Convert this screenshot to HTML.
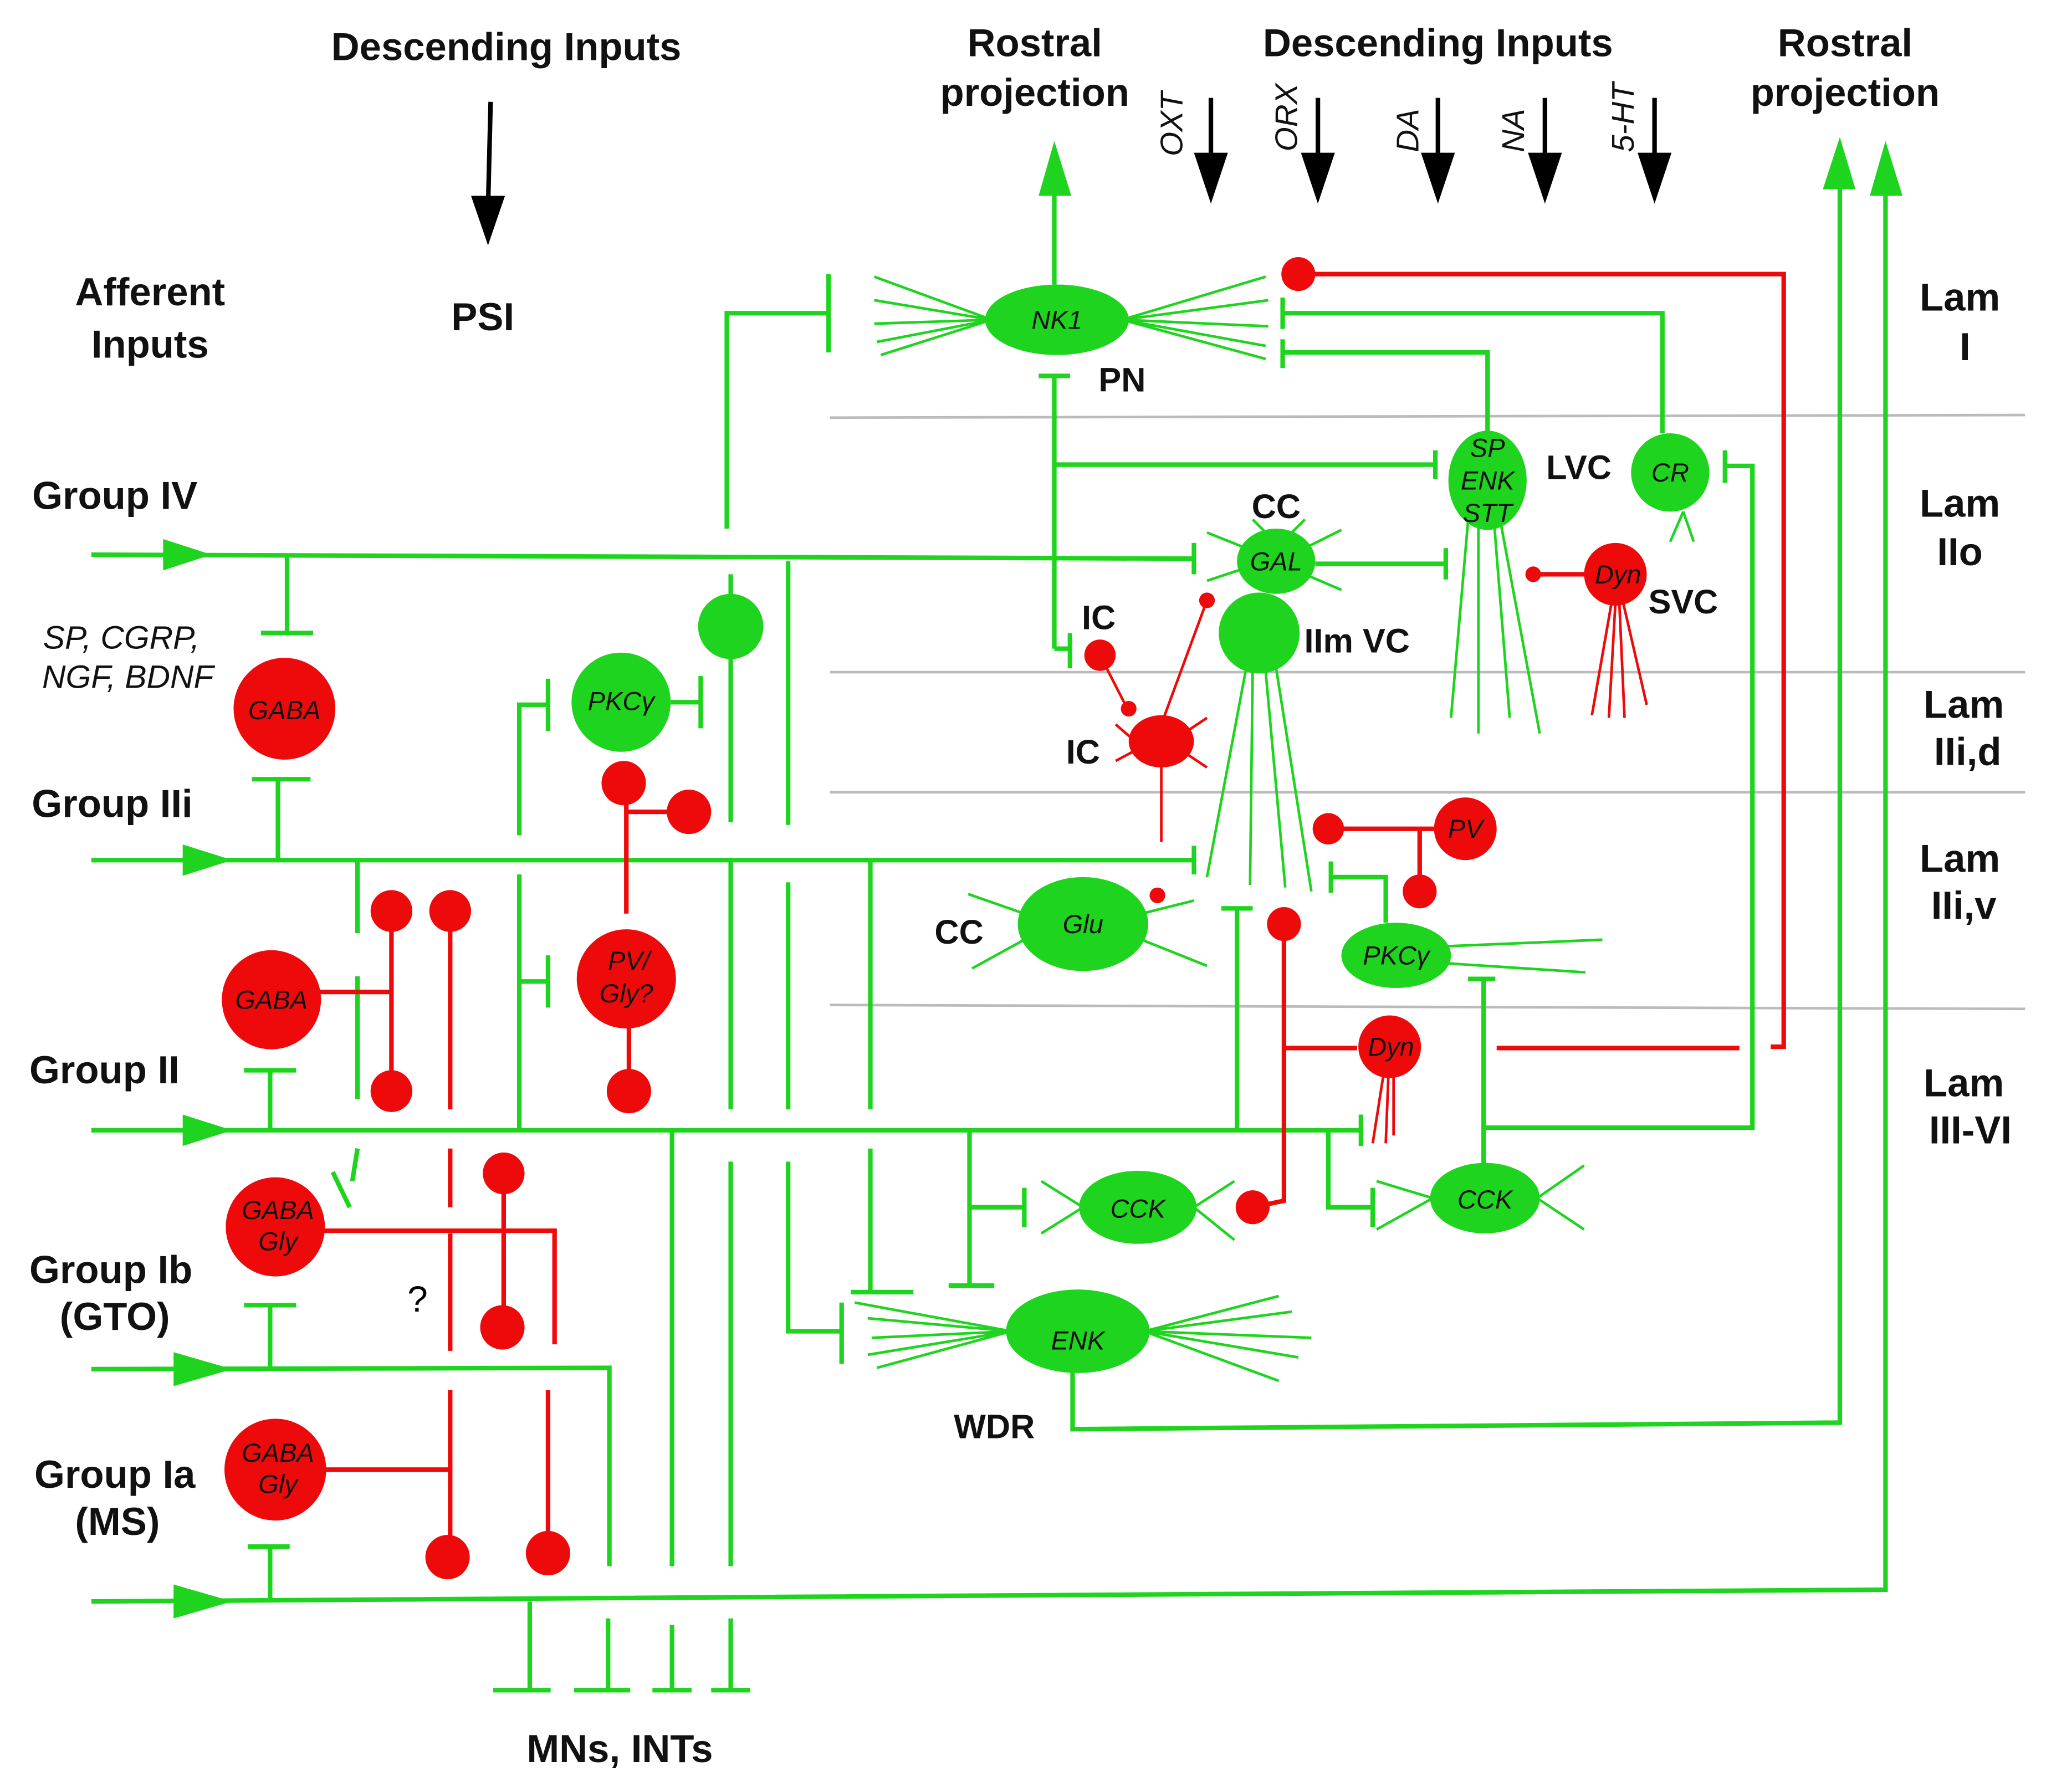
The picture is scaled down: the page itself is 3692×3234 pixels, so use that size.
<!DOCTYPE html>
<html><head><meta charset="utf-8"><style>
html,body{margin:0;padding:0;background:#fff}
svg{display:block}
.t{font-family:"Liberation Sans",sans-serif;font-weight:bold;font-size:30px;fill:#111;text-anchor:middle}
.i{font-family:"Liberation Sans",sans-serif;font-style:italic;font-size:20px;fill:#111;text-anchor:middle}
.g{stroke:#1ed41e;stroke-width:3.5;fill:none}
.gt{stroke:#1ed41e;stroke-width:2;fill:none}
.r{stroke:#ee0a0a;stroke-width:3.5;fill:none}
.rt{stroke:#ee0a0a;stroke-width:2;fill:none}
.gray{stroke:#bbb;stroke-width:2}
</style></head><body>
<svg width="3692" height="3234" viewBox="0 0 1568 1373" preserveAspectRatio="none" xmlns="http://www.w3.org/2000/svg">
<rect width="1568" height="1373" fill="#fff"/>
<!-- gray lamina lines -->
<line class="gray" x1="636" y1="320" x2="1552" y2="318"/>
<line class="gray" x1="636" y1="515" x2="1552" y2="515"/>
<line class="gray" x1="636" y1="607" x2="1552" y2="607"/>
<line class="gray" x1="636" y1="770" x2="1552" y2="773"/>

<!-- titles -->
<text class="t" x="388" y="46">Descending Inputs</text>
<text class="t" x="370" y="253">PSI</text>
<text class="t" x="115" y="234">Afferent</text><text class="t" x="115" y="274">Inputs</text>
<text class="t" x="793" y="43">Rostral</text><text class="t" x="793" y="81">projection</text>
<text class="t" x="1102" y="43">Descending Inputs</text>
<text class="t" x="1414" y="43">Rostral</text><text class="t" x="1414" y="81">projection</text>
<text class="t" x="1502" y="238">Lam</text><text class="t" x="1506" y="276">I</text>
<text class="t" x="1502" y="396">Lam</text><text class="t" x="1502" y="433">IIo</text>
<text class="t" x="1505" y="550">Lam</text><text class="t" x="1508" y="586">IIi,d</text>
<text class="t" x="1502" y="668">Lam</text><text class="t" x="1505" y="704">IIi,v</text>
<text class="t" x="1505" y="840">Lam</text><text class="t" x="1510" y="876">III-VI</text>
<text class="t" x="88" y="390">Group IV</text>
<text class="t" x="86" y="626">Group IIi</text>
<text class="t" x="80" y="830">Group II</text>
<text class="t" x="85" y="983">Group Ib</text><text class="t" x="88" y="1019">(GTO)</text>
<text class="t" x="88" y="1140">Group Ia</text><text class="t" x="90" y="1176">(MS)</text>
<text class="i" x="93" y="497" style="font-size:25px">SP, CGRP,</text>
<text class="i" x="98" y="527" style="font-size:25px">NGF, BDNF</text>
<text class="t" x="475" y="1350">MNs, INTs</text>
<text class="t" x="860" y="300" style="font-size:26px">PN</text>
<text class="t" x="1210" y="367" style="font-size:26px">LVC</text>
<text class="t" x="978" y="397" style="font-size:26px">CC</text>
<text class="t" x="1290" y="470" style="font-size:26px">SVC</text>
<text class="t" x="1040" y="500" style="font-size:26px">IIm VC</text>
<text class="t" x="842" y="482" style="font-size:26px">IC</text>
<text class="t" x="830" y="585" style="font-size:26px">IC</text>
<text class="t" x="735" y="723" style="font-size:26px">CC</text>
<text class="t" x="762" y="1102" style="font-size:26px">WDR</text>
<text x="320" y="1005" style="font-family:'Liberation Sans',sans-serif;font-size:28px" text-anchor="middle">?</text>

<!-- descending black arrows -->
<g stroke="#000" stroke-width="3.5" fill="#000">
<line x1="376" y1="78" x2="374" y2="160"/><polygon points="361,150 387,150 374,188" stroke="none"/>
<line x1="928" y1="75" x2="928" y2="125"/><polygon points="915,117 941,117 928,156" stroke="none"/>
<line x1="1010" y1="75" x2="1010" y2="125"/><polygon points="997,117 1023,117 1010,156" stroke="none"/>
<line x1="1102" y1="75" x2="1102" y2="125"/><polygon points="1089,117 1115,117 1102,156" stroke="none"/>
<line x1="1184" y1="75" x2="1184" y2="125"/><polygon points="1171,117 1197,117 1184,156" stroke="none"/>
<line x1="1268" y1="75" x2="1268" y2="125"/><polygon points="1255,117 1281,117 1268,156" stroke="none"/>
</g>
<g class="i" style="font-size:24px">
<text transform="translate(906,95) rotate(-90)">OXT</text>
<text transform="translate(994,90) rotate(-90)">ORX</text>
<text transform="translate(1087,100) rotate(-90)">DA</text>
<text transform="translate(1168,100) rotate(-90)">NA</text>
<text transform="translate(1252,90) rotate(-90)">5-HT</text>
</g>

<!-- afferent lines -->
<g class="g">
<line x1="70" y1="425" x2="915" y2="428"/><line x1="915" y1="416" x2="915" y2="440"/>
<line x1="70" y1="659" x2="915" y2="659"/><line x1="915" y1="648" x2="915" y2="670"/>
<line x1="70" y1="866" x2="1043" y2="866"/><line x1="1043" y1="854" x2="1043" y2="878"/>
<polyline points="70,1049 467,1048 467,1200"/>
<polyline points="70,1227 1445,1218 1445,140"/>
</g>
<g fill="#1ed41e">
<polygon points="125,413 162,425 125,437"/>
<polygon points="140,647 178,659 140,671"/>
<polygon points="140,854 178,866 140,878"/>
<polygon points="133,1036 178,1049 133,1062"/>
<polygon points="133,1214 178,1227 133,1240"/>
<polygon points="1433,150 1445,108 1458,150"/>
<polygon points="1397,145 1410,105 1422,145"/>
<polygon points="796,150 808,108 821,150"/>
</g>

<!-- left inhibitory circuitry -->
<g class="g">
<line x1="220" y1="425" x2="220" y2="485"/><line x1="200" y1="485" x2="240" y2="485"/>
<line x1="213" y1="659" x2="213" y2="597"/><line x1="193" y1="597" x2="238" y2="597"/>
<line x1="207" y1="866" x2="207" y2="820"/><line x1="187" y1="820" x2="227" y2="820"/>
<line x1="207" y1="1049" x2="207" y2="1000"/><line x1="187" y1="1000" x2="227" y2="1000"/>
<line x1="207" y1="1227" x2="207" y2="1185"/><line x1="190" y1="1185" x2="222" y2="1185"/>
<line x1="274" y1="660" x2="274" y2="715"/><line x1="274" y1="748" x2="274" y2="842"/>
<line x1="274" y1="880" x2="270" y2="905"/><line x1="255" y1="898" x2="268" y2="925"/>
<!-- MN lines -->
<line x1="406" y1="1227" x2="406" y2="1295"/><line x1="378" y1="1295" x2="422" y2="1295"/>
<line x1="466" y1="1240" x2="466" y2="1295"/><line x1="440" y1="1295" x2="483" y2="1295"/>
<line x1="515" y1="866" x2="515" y2="1200"/><line x1="515" y1="1245" x2="515" y2="1295"/><line x1="500" y1="1295" x2="530" y2="1295"/>
<line x1="560" y1="660" x2="560" y2="850"/><line x1="560" y1="890" x2="560" y2="1200"/><line x1="560" y1="1240" x2="560" y2="1295"/><line x1="545" y1="1295" x2="575" y2="1295"/>
<!-- PSI/PN -->
<polyline points="557,405 557,240 635,240"/><line x1="635" y1="210" x2="635" y2="270"/>
<line x1="560" y1="440" x2="560" y2="630"/>
<line x1="604" y1="430" x2="604" y2="632"/><line x1="604" y1="676" x2="604" y2="850"/>
<polyline points="604,890 604,1020 645,1020"/><line x1="645" y1="998" x2="645" y2="1045"/>
<!-- PKCg -->
<polyline points="398,640 398,540 420,540"/><line x1="420" y1="520" x2="420" y2="560"/>
<line x1="514" y1="538" x2="537" y2="538"/><line x1="537" y1="518" x2="537" y2="558"/>
<line x1="398" y1="670" x2="398" y2="866"/><line x1="398" y1="752" x2="420" y2="752"/><line x1="420" y1="732" x2="420" y2="772"/>
<line x1="667" y1="660" x2="667" y2="850"/><line x1="667" y1="880" x2="667" y2="990"/><line x1="652" y1="990" x2="700" y2="990"/>
<line x1="743" y1="866" x2="743" y2="985"/><line x1="727" y1="985" x2="762" y2="985"/>
<line x1="743" y1="925" x2="785" y2="925"/><line x1="785" y1="910" x2="785" y2="940"/>
<line x1="948" y1="866" x2="948" y2="696"/><line x1="936" y1="696" x2="960" y2="696"/>
<!-- NK1 -->
<line x1="808" y1="218" x2="808" y2="145"/>
<line x1="808" y1="288" x2="808" y2="497"/><line x1="796" y1="288" x2="820" y2="288"/>
<line x1="808" y1="356" x2="1100" y2="356"/><line x1="1100" y1="345" x2="1100" y2="367"/>
<line x1="808" y1="497" x2="820" y2="497"/><line x1="820" y1="485" x2="820" y2="512"/>
<polyline points="983,240 1274,240 1274,332"/><line x1="983" y1="228" x2="983" y2="252"/>
<polyline points="983,270 1140,270 1140,335"/><line x1="983" y1="260" x2="983" y2="282"/>
<polyline points="1322,357 1343,357 1343,864 1138,864"/><line x1="1322" y1="345" x2="1322" y2="370"/>
<line x1="1008" y1="432" x2="1108" y2="432"/><line x1="1108" y1="420" x2="1108" y2="444"/>
<line x1="1137" y1="750" x2="1137" y2="892"/><line x1="1125" y1="750" x2="1146" y2="750"/>
<polyline points="1018,866 1018,925 1052,925"/><line x1="1052" y1="910" x2="1052" y2="940"/>
<polyline points="1020,672 1062,672 1062,707"/><line x1="1020" y1="660" x2="1020" y2="684"/>
<polyline points="822,1050 822,1095 1410,1090 1410,140"/>
</g>

<!-- green cells -->
<g fill="#1ed41e">
<ellipse cx="810" cy="245" rx="55" ry="27"/>
<circle cx="560" cy="480" r="25"/>
<circle cx="476" cy="538" r="38"/>
<ellipse cx="1140" cy="368" rx="30" ry="38"/>
<circle cx="1280" cy="362" r="30"/>
<ellipse cx="978" cy="430" rx="30" ry="25"/>
<circle cx="965" cy="485" r="31"/>
<ellipse cx="830" cy="708" rx="50" ry="36"/>
<ellipse cx="1070" cy="732" rx="42" ry="25"/>
<ellipse cx="872" cy="925" rx="45" ry="28"/>
<ellipse cx="1138" cy="918" rx="42" ry="27"/>
<ellipse cx="826" cy="1020" rx="55" ry="32"/>
</g>
<!-- green spikes -->
<g class="gt">
<path d="M760,245 L670,212 M760,245 L670,230 M760,245 L670,248 M760,245 L672,262 M760,245 L675,272 M860,245 L970,212 M860,245 L972,230 M860,245 L972,250 M860,245 L970,265 M860,245 L970,275"/>
<path d="M1125,400 L1112,550 M1133,400 L1133,562 M1145,400 L1157,550 M1150,400 L1180,562"/>
<path d="M1290,392 L1280,415 M1290,392 L1298,415"/>
<path d="M955,420 L925,408 M955,435 L925,445 M1000,420 L1028,406 M1000,440 L1028,452 M970,408 L960,398 M990,408 L1000,398"/>
<path d="M955,512 L925,672 M960,515 L958,678 M970,515 L985,680 M978,512 L1005,683"/>
<path d="M785,700 L742,685 M785,720 L745,742 M875,700 L915,690 M875,720 L925,740"/>
<path d="M1108,725 L1228,720 M1108,738 L1215,745"/>
<path d="M830,925 L798,905 M830,925 L798,945 M915,925 L946,905 M915,925 L946,950"/>
<path d="M1098,918 L1055,905 M1098,918 L1055,942 M1178,918 L1214,893 M1178,918 L1214,942"/>
<path d="M775,1020 L655,998 M775,1020 L665,1010 M775,1020 L668,1025 M775,1020 L665,1038 M775,1020 L672,1048 M877,1020 L980,993 M877,1020 L990,1005 M877,1020 L1005,1025 M877,1020 L995,1040 M877,1020 L980,1058"/>
</g>

<!-- red circuitry -->
<g class="r">
<polyline points="245,760 300,760"/><line x1="300" y1="698" x2="300" y2="836"/>
<line x1="345" y1="698" x2="345" y2="850"/>
<line x1="345" y1="880" x2="345" y2="925" /><line x1="345" y1="945" x2="345" y2="1035"/>
<line x1="345" y1="1065" x2="345" y2="1193"/>
<polyline points="248,943 425,943 425,1030"/>
<line x1="386" y1="899" x2="386" y2="1017"/>
<line x1="248" y1="1126" x2="345" y2="1126"/>
<line x1="420" y1="1065" x2="420" y2="1190"/>
<line x1="480" y1="600" x2="480" y2="700"/><line x1="480" y1="622" x2="528" y2="622"/>
<line x1="482" y1="780" x2="482" y2="836"/>
<polyline points="995,210 1367,210 1367,802 1357,802"/>
<line x1="1147" y1="803" x2="1333" y2="803"/>
<line x1="985" y1="803" x2="1040" y2="803"/>
<polyline points="960,925 984,920 984,708"/>
<line x1="1018" y1="635" x2="1100" y2="635"/><line x1="1088" y1="635" x2="1088" y2="683"/>
<line x1="1175" y1="440" x2="1215" y2="440"/>
</g>
<g class="rt">
<path d="M843,502 L865,545 M890,555 L925,460 M890,585 L890,645"/>
<path d="M870,568 L855,555 M870,575 L855,583 M910,560 L925,550 M910,578 L925,588"/>
<path d="M1235,462 L1220,548 M1238,462 L1233,550 M1241,462 L1245,550 M1244,462 L1262,540"/>
<path d="M1060,825 L1052,876 M1064,825 L1062,876 M1068,825 L1068,870"/>
</g>
<g fill="#ee0a0a">
<circle cx="218" cy="543" r="39"/>
<circle cx="208" cy="766" r="38"/>
<circle cx="211" cy="940" r="38"/>
<circle cx="211" cy="1126" r="39"/>
<circle cx="300" cy="698" r="16"/><circle cx="300" cy="836" r="16"/>
<circle cx="345" cy="698" r="16"/>
<circle cx="386" cy="899" r="16"/><circle cx="385" cy="1017" r="17"/>
<circle cx="343" cy="1193" r="17"/><circle cx="420" cy="1190" r="17"/>
<circle cx="478" cy="600" r="17"/><circle cx="528" cy="622" r="17"/>
<circle cx="480" cy="750" r="38"/>
<circle cx="482" cy="836" r="17"/>
<circle cx="995" cy="210" r="13"/>
<circle cx="1238" cy="440" r="24"/><circle cx="1175" cy="440" r="6"/>
<circle cx="843" cy="502" r="12"/><circle cx="865" cy="543" r="6"/><circle cx="925" cy="460" r="6"/>
<ellipse cx="890" cy="568" rx="25" ry="20"/>
<circle cx="887" cy="686" r="6"/>
<circle cx="1123" cy="635" r="24"/><circle cx="1018" cy="635" r="12"/><circle cx="1088" cy="683" r="13"/>
<circle cx="984" cy="708" r="13"/><circle cx="960" cy="925" r="13"/>
<circle cx="1065" cy="802" r="24"/>
</g>

<!-- cell labels -->
<g class="i">
<text x="810" y="252">NK1</text>
<text x="218" y="551">GABA</text>
<text x="208" y="773">GABA</text>
<text x="213" y="934">GABA</text><text x="213" y="958">Gly</text>
<text x="213" y="1120">GABA</text><text x="213" y="1144">Gly</text>
<text x="476" y="544">PKCγ</text>
<text x="482" y="743">PV/</text><text x="480" y="768">Gly?</text>
<text x="1140" y="350">SP</text><text x="1140" y="375">ENK</text><text x="1140" y="400">STT</text>
<text x="1280" y="369">CR</text>
<text x="978" y="437">GAL</text>
<text x="1240" y="447">Dyn</text>
<text x="830" y="715">Glu</text>
<text x="1123" y="642">PV</text>
<text x="1070" y="739">PKCγ</text>
<text x="1066" y="809">Dyn</text>
<text x="872" y="933">CCK</text>
<text x="1138" y="926">CCK</text>
<text x="826" y="1034">ENK</text>
</g>
</svg>
</body></html>
